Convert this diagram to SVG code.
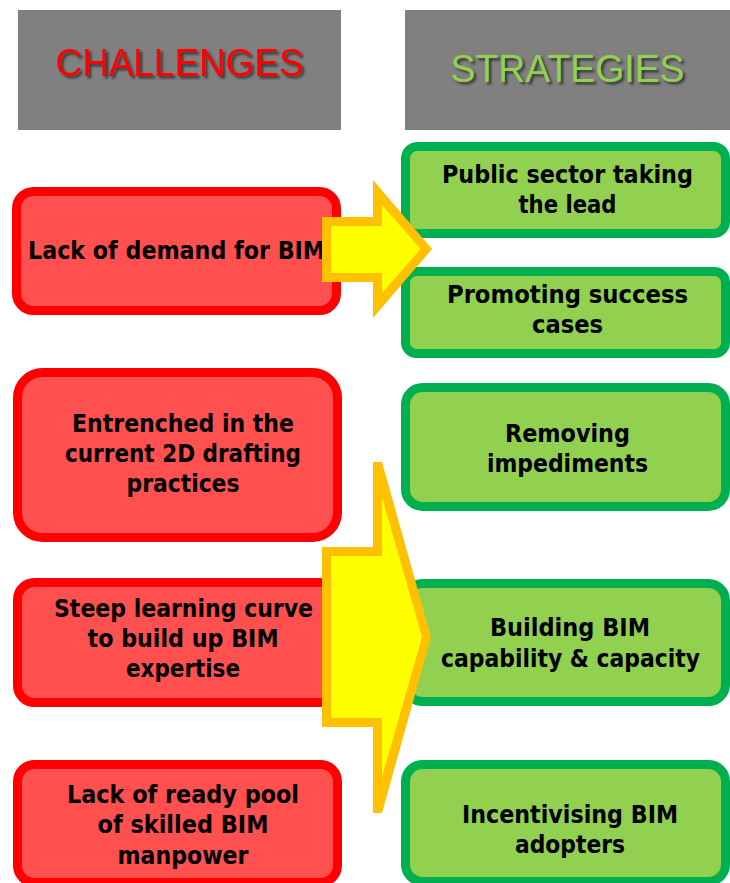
<svg xmlns="http://www.w3.org/2000/svg" width="730" height="883" viewBox="0 0 730 883">
<defs>
<filter id="sh" x="-10%" y="-30%" width="120%" height="160%">
<feDropShadow dx="2.5" dy="2.5" stdDeviation="1.3" flood-color="#000" flood-opacity="0.55"/>
</filter>
</defs>
<style>
.hdr{fill:#808080}
.ht{font-family:"Liberation Sans Narrow","Liberation Sans",Arial,sans-serif;text-anchor:middle;filter:url(#sh)}
.red{fill:#FF5050;stroke:#FF0000;stroke-width:9}
.grn{fill:#92D050;stroke:#00B050;stroke-width:9}
.t{font-family:"DejaVu Sans Condensed","DejaVu Sans",sans-serif;font-weight:bold;font-size:24px;fill:#000;text-anchor:middle}
.ao{fill:#FFC000}
.ai{fill:#FFFF00}
</style>
<rect width="730" height="883" fill="#fff"/>
<g id="header-challenges">
<rect class="hdr" x="18" y="10" width="323" height="120"/>
<text class="ht" x="179.5" y="76" font-size="39" fill="#FF0000" textLength="248" lengthAdjust="spacingAndGlyphs">CHALLENGES</text>
</g>
<g id="header-strategies">
<rect class="hdr" x="405" y="10" width="325" height="120"/>
<text class="ht" x="567.5" y="82" font-size="38" fill="#92D050" textLength="234" lengthAdjust="spacingAndGlyphs">STRATEGIES</text>
</g>
<g id="c1">
<rect class="red" x="16.5" y="191.5" width="320" height="119" rx="17"/>
<text class="t" x="176.5" y="259" textLength="297" lengthAdjust="spacingAndGlyphs">Lack of demand for BIM</text>
</g>
<g id="c2">
<rect class="red" x="17.5" y="372.5" width="320" height="165" rx="25"/>
<text class="t" x="183" y="432" textLength="222" lengthAdjust="spacingAndGlyphs">Entrenched in the</text>
<text class="t" x="183" y="462" textLength="236" lengthAdjust="spacingAndGlyphs">current 2D drafting</text>
<text class="t" x="183" y="492" textLength="113" lengthAdjust="spacingAndGlyphs">practices</text>
</g>
<g id="c3">
<rect class="red" x="17.5" y="582.5" width="320" height="120" rx="17"/>
<text class="t" x="183.5" y="617" textLength="259" lengthAdjust="spacingAndGlyphs">Steep learning curve</text>
<text class="t" x="183" y="647" textLength="191" lengthAdjust="spacingAndGlyphs">to build up BIM</text>
<text class="t" x="183" y="677" textLength="114" lengthAdjust="spacingAndGlyphs">expertise</text>
</g>
<g id="c4">
<rect class="red" x="17.5" y="764.5" width="320" height="118" rx="17"/>
<text class="t" x="183" y="803" textLength="232" lengthAdjust="spacingAndGlyphs">Lack of ready pool</text>
<text class="t" x="183" y="833" textLength="171" lengthAdjust="spacingAndGlyphs">of skilled BIM</text>
<text class="t" x="183" y="864" textLength="131" lengthAdjust="spacingAndGlyphs">manpower</text>
</g>
<g id="s1">
<rect class="grn" x="405.5" y="146.5" width="320" height="87" rx="12"/>
<text class="t" x="567.5" y="183" textLength="251" lengthAdjust="spacingAndGlyphs">Public sector taking</text>
<text class="t" x="567.5" y="213" textLength="98" lengthAdjust="spacingAndGlyphs">the lead</text>
</g>
<g id="s2">
<rect class="grn" x="405.5" y="271.5" width="320" height="82" rx="11"/>
<text class="t" x="567.5" y="303" textLength="241" lengthAdjust="spacingAndGlyphs">Promoting success</text>
<text class="t" x="567.5" y="333" textLength="71" lengthAdjust="spacingAndGlyphs">cases</text>
</g>
<g id="s3">
<rect class="grn" x="405.5" y="387.5" width="320" height="119" rx="17"/>
<text class="t" x="567.5" y="442" textLength="125" lengthAdjust="spacingAndGlyphs">Removing</text>
<text class="t" x="567.5" y="472" textLength="161" lengthAdjust="spacingAndGlyphs">impediments</text>
</g>
<g id="s4">
<rect class="grn" x="405.5" y="583.5" width="320" height="118" rx="17"/>
<text class="t" x="570" y="636" textLength="160" lengthAdjust="spacingAndGlyphs">Building BIM</text>
<text class="t" x="570.5" y="667" textLength="259" lengthAdjust="spacingAndGlyphs">capability &amp; capacity</text>
</g>
<g id="s5">
<rect class="grn" x="405.5" y="764.5" width="320" height="117" rx="17"/>
<text class="t" x="570" y="823" textLength="216" lengthAdjust="spacingAndGlyphs">Incentivising BIM</text>
<text class="t" x="570" y="853" textLength="110" lengthAdjust="spacingAndGlyphs">adopters</text>
</g>
<g id="connectors">
<g id="arrow1">
<polygon class="ao" points="322,217 373,217 373,180 432,249 373,318 373,282 322,282"/>
<polygon class="ai" points="331,226 382,226 382,205 420.5,249 382,293 382,273 331,273"/>
</g>
<g id="arrow2">
<polygon class="ao" points="322,547 373,547 373,462 382,462 431,637 382,813 373,813 373,727 322,727"/>
<polygon class="ai" points="331,556 382,556 382,497 422,637 382,777 382,718 331,718"/>
</g>
</g>
</svg>
